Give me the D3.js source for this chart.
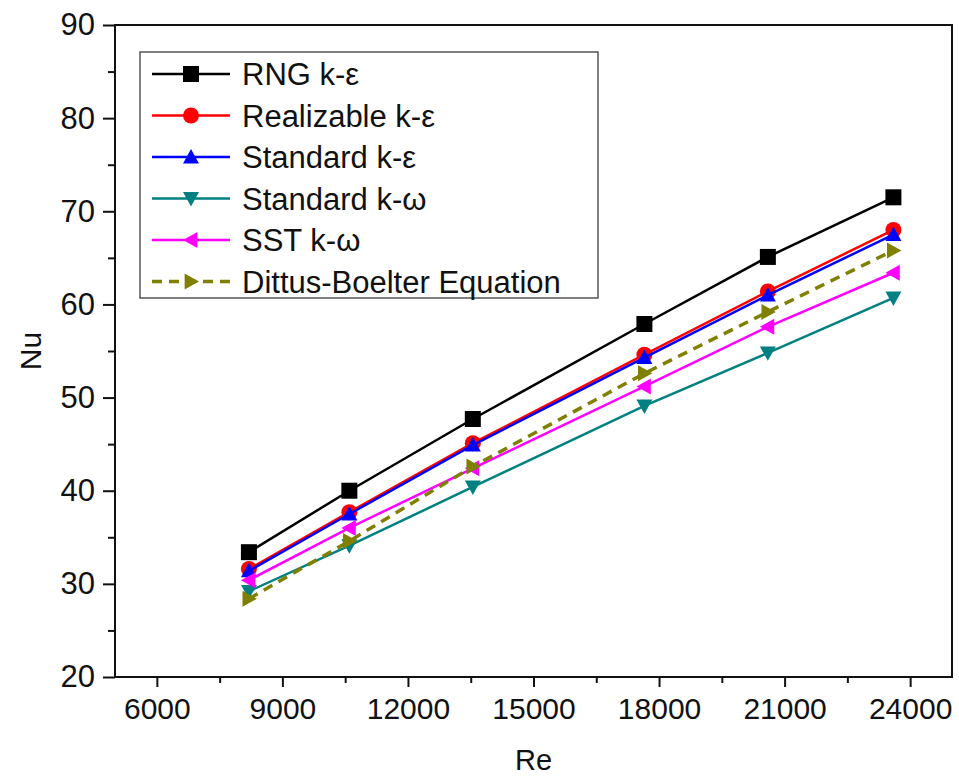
<!DOCTYPE html>
<html>
<head>
<meta charset="utf-8">
<script src="https://cdn.jsdelivr.net/npm/d3@7"></script>
<style>
  body { margin: 0; background: #fff; }
  svg { display: block; font-family: "Liberation Sans", Arial, sans-serif; }
</style>
</head>
<body>
<div id="chart"></div>
<script>
// Reynolds numbers (x) and Nusselt numbers per model (y)
const reynolds = [8200, 10600, 13550, 17650, 20600, 23600];
const rngKe = [33.4, 40.0, 47.7, 57.9, 65.1, 71.5];
const realizableKe = [31.6, 37.7, 45.1, 54.6, 61.4, 68.0];
const standardKe = [31.4, 37.5, 44.9, 54.3, 61.0, 67.5];
const standardKw = [29.2, 34.1, 40.4, 49.1, 54.8, 60.7];
const sstKw = [30.4, 36.0, 42.4, 51.2, 57.6, 63.4];
const dittusBoelter = [28.4, 34.6, 42.6, 52.6, 59.2, 65.8];

const seriesNames = ["RNG k-\u03b5", "Realizable k-\u03b5", "Standard k-\u03b5", "Standard k-\u03c9", "SST k-\u03c9", "Dittus-Boelter Equation"];
const xTicks = [6000, 9000, 12000, 15000, 18000, 21000, 24000];
const yTicks = [20, 30, 40, 50, 60, 70, 80, 90];

const series = [
  { name: seriesNames[0], values: rngKe, color: "#000000", marker: "square" },
  { name: seriesNames[1], values: realizableKe, color: "#ff0000", marker: "circle" },
  { name: seriesNames[2], values: standardKe, color: "#0000ff", marker: "up" },
  { name: seriesNames[3], values: standardKw, color: "#008080", marker: "down" },
  { name: seriesNames[4], values: sstKw, color: "#ff00ff", marker: "left" },
  { name: seriesNames[5], values: dittusBoelter, color: "#808000", marker: "right", dashed: true },
];

const width = 959, height = 778;
const margin = { top: 25, right: 7, bottom: 101, left: 115 };

const svg = d3.select("#chart").append("svg")
  .attr("width", width).attr("height", height);

const xScale = d3.scaleLinear().domain([5000, 25000]).range([margin.left, width - margin.right]);
const yScale = d3.scaleLinear().domain([20, 90]).range([height - margin.bottom, margin.top]);

// marker shapes
const markerPath = (type, s) => {
  const h = s / 2;
  switch (type) {
    case "square": return `M${-h},${-h}H${h}V${h}H${-h}Z`;
    case "circle": return d3.symbol(d3.symbolCircle, Math.PI * h * h)();
    case "up": return `M0,${-h}L${h},${h * 0.8}L${-h},${h * 0.8}Z`;
    case "down": return `M0,${h}L${h},${-h * 0.8}L${-h},${-h * 0.8}Z`;
    case "left": return `M${-h},0L${h * 0.8},${-h}L${h * 0.8},${h}Z`;
    case "right": return `M${h},0L${-h * 0.8},${-h}L${-h * 0.8},${h}Z`;
  }
};

// axes
const xAxis = svg.append("g")
  .attr("transform", `translate(0,${height - margin.bottom})`)
  .call(d3.axisBottom(xScale).tickValues(xTicks).tickSize(10).tickPadding(11).tickFormat(d3.format("d")));
svg.append("g")
  .attr("transform", `translate(0,${height - margin.bottom})`)
  .call(d3.axisBottom(xScale).tickValues(d3.range(7500, 24000, 3000)).tickSize(6).tickFormat(""));

const yAxis = svg.append("g")
  .attr("transform", `translate(${margin.left},0)`)
  .call(d3.axisLeft(yScale).tickValues(yTicks).tickSize(12).tickPadding(8));
svg.append("g")
  .attr("transform", `translate(${margin.left},0)`)
  .call(d3.axisLeft(yScale).tickValues(d3.range(25, 90, 10)).tickSize(7).tickFormat(""));

svg.selectAll(".domain").remove();
svg.selectAll(".tick line").attr("stroke", "#111").attr("stroke-width", 2);
xAxis.selectAll("text").attr("font-size", 30).attr("fill", "#111");
yAxis.selectAll("text").attr("font-size", 31).attr("fill", "#111");

// frame
svg.append("rect")
  .attr("x", xScale(5000)).attr("y", yScale(90))
  .attr("width", xScale(25000) - xScale(5000))
  .attr("height", yScale(20) - yScale(90))
  .attr("fill", "none").attr("stroke", "#111").attr("stroke-width", 2);

// axis titles
svg.append("text")
  .attr("x", (xScale(5000) + xScale(25000)) / 2).attr("y", 770)
  .attr("text-anchor", "middle").attr("font-size", 29).attr("fill", "#111")
  .text("Re");
svg.append("text")
  .attr("transform", `translate(41,${(yScale(20) + yScale(90)) / 2}) rotate(-90)`)
  .attr("text-anchor", "middle").attr("font-size", 30).attr("fill", "#111")
  .text("Nu");

// lines and markers
const line = d3.line().x((d, i) => xScale(reynolds[i])).y(d => yScale(d));
const plot = svg.append("g");

series.forEach(s => {
  const g = plot.append("g");
  g.append("path")
    .attr("d", line(s.values))
    .attr("fill", "none")
    .attr("stroke", s.color)
    .attr("stroke-width", s.dashed ? 3.5 : 2.5)
    .attr("stroke-dasharray", s.dashed ? "10,7" : null);
  g.selectAll("path.m")
    .data(s.values)
    .enter()
    .append("path")
    .attr("class", "m")
    .attr("transform", (d, i) => `translate(${xScale(reynolds[i])},${yScale(d)})`)
    .attr("d", markerPath(s.marker, 16))
    .attr("fill", s.color);
});

// legend
const legend = svg.append("g");
legend.append("rect")
  .attr("x", 140).attr("y", 52).attr("width", 458).attr("height", 246)
  .attr("fill", "#fff").attr("stroke", "#555").attr("stroke-width", 1.5);

series.forEach((s, i) => {
  const row = legend.append("g").attr("transform", `translate(0,${74 + i * 41.5})`);
  row.append("line")
    .attr("x1", 152).attr("x2", 230)
    .attr("stroke", s.color)
    .attr("stroke-width", s.dashed ? 3.5 : 2.5)
    .attr("stroke-dasharray", s.dashed ? "10,7" : null);
  row.append("path")
    .attr("transform", "translate(191,0)")
    .attr("d", markerPath(s.marker, 16))
    .attr("fill", s.color);
  row.append("text")
    .attr("x", 242).attr("y", 11)
    .attr("font-size", 31).attr("fill", "#111")
    .text(s.name);
});
</script>
</body>
</html>
